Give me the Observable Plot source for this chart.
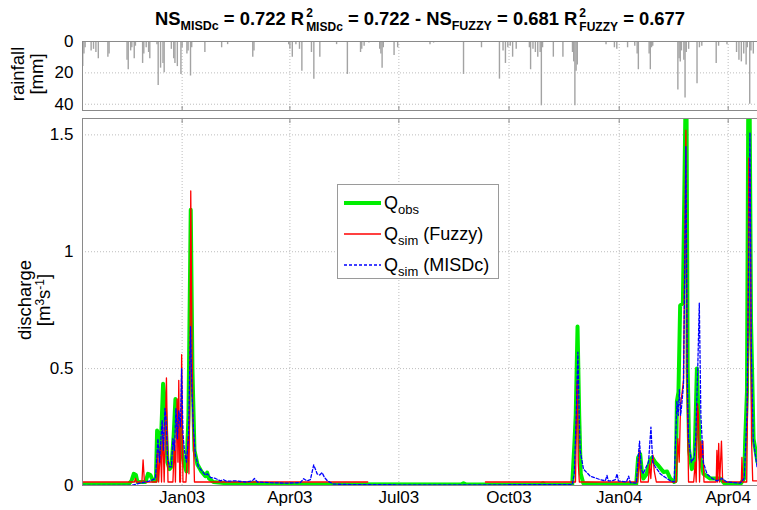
<!DOCTYPE html>
<html><head><meta charset="utf-8">
<script src="https://cdn.jsdelivr.net/npm/d3@7"></script>
<script src="https://cdn.jsdelivr.net/npm/@observablehq/plot@0.6"></script>
<style>
body{margin:0;background:#fff;font-family:"Liberation Sans",Arial,sans-serif;color:#000;}
#wrap{position:relative;width:757px;height:510px;overflow:hidden;background:#fff;}
#wrap > svg, #wrap > figure{position:absolute;left:0;top:0;margin:0;}
#title{position:absolute;left:-10px;width:860px;top:6px;text-align:center;font-weight:bold;font-size:18.4px;white-space:nowrap;font-family:"Liberation Sans",Arial,sans-serif;letter-spacing:0;}
#title sub{font-size:12.5px;vertical-align:-5px;line-height:0;}
.ss{display:inline-flex;flex-direction:column;vertical-align:8px;font-size:12px;line-height:14px;margin-left:2px;}
.ss span{display:block;text-align:left;}
.ylab{position:absolute;transform:translate(-50%,-50%) rotate(-90deg);white-space:nowrap;font-size:18.5px;line-height:18px;}
.ylab sup{font-size:12px;vertical-align:6px;line-height:0;}
</style>
</head><body>
<div id="wrap">
  <div id="title">NS<sub>MISDc</sub> = 0.722 R<span class="ss"><span>2</span><span>MISDc</span></span> = 0.722 - NS<sub>FUZZY</sub> = 0.681 R<span class="ss"><span>2</span><span>FUZZY</span></span> = 0.677</div>
</div>
<script>
// ---- data (day offsets from 2003-01-01) ----
const tickDates = ["2003-01-01","2003-04-01","2003-07-01","2003-10-01","2004-01-01","2004-04-01"];
const tickLabels = ["Jan03","Apr03","Jul03","Oct03","Jan04","Apr04"];
const qTicks = [0, 0.5, 1, 1.5];
const rainTicks = [0, 20, 40];

// rainfall [day, mm]
const rain = [[-83,16],[-82,8],[-81,4],[-76,6],[-74,5],[-72,7],[-70,11],[-62,10],[-61,8],[-46,12],[-45,18],[-43,6],[-42,4],[-40,11],[-39,3],[-33,14],[-32,8],[-30,4],[-28,7],[-27,11],[-21,2],[-20,28],[-18,17],[-16,14],[-15,20],[-9,5],[-7,11],[-6,14],[-4,16],[-1,21],[0,4],[4,8],[5,6],[7,22],[8,4],[19,7],[33,4],[38,2],
[59,10],[60,6],[89,2],[90,5],[92,10],[95,2],[98,5],[100,19],[108,7],[110,24],[115,10],[129,2],[138,21],[149,7],[150,5],[152,3],[156,1],[165,5],[166,8],[167,17],[168,4],[177,9],[180,4],
[207,2],[210,1],[235,21],[250,4],[255,0.5],[265,24],[268,6],[270,14],[272,4],[274,3],[276,10],[279,5],[290,4],[291,18],[293,5],[295,7],[297,10],[299,7],[300,41],[301,4],[310,10],[318,10],[326,7],[327,13],[328,41],[329,19],[330,15],
[354,2],[361,4],[363,5],[372,4],[378,3],[380,8],[381,18],[390,8],[391,18],[392,4],[393,3],[414,31],[415,11],[416,13],[417,6],[419,12],[420,36],[421,7],[423,5],[430,27],[432,4],[434,3],[446,14],[448,3],[455,2],[463,7],[465,12],[467,13],[469,8],[471,15],[472,4],[474,40],[475,6],[477,8]];

// observed discharge [day, m3/s]
const qObs = [[-83.2,0.005],[-44.8,0.005],[-42.3,0.02],[-40.4,0.05],[-38.6,0.045],[-37.3,0.015],[-30.6,0.015],[-28.5,0.05],[-26.5,0.045],[-24.4,0.02],[-21.9,0.02],[-20.9,0.235],[-19.5,0.2],[-18.1,0.13],[-15.9,0.435],[-14.8,0.38],[-13.9,0.3],[-12.3,0.1],[-10.6,0.07],[-8.9,0.08],[-7,0.22],[-5.6,0.37],[-3.9,0.3],[-1.4,0.25],[-0.2,0.15],[1.3,0.1],[3.6,0.06],[5.3,0.3],[7.2,1.18],[8.6,0.5],[10.3,0.15],[12.8,0.09],[16.1,0.06],[19.4,0.04],[20.9,0.055],[22.4,0.03],[26.1,0.015],[36.1,0.01],[57,0.008],[61,0.012],[63.5,0.006],[98.7,0.005],[233,0.004],[235,0.01],[237.3,0.004],[299,0.004],[301.3,0.01],[303.3,0.004],[325.8,0.005],[327.7,0.19],[328.7,0.3],[330.2,0.68],[331.6,0.3],[332.9,0.05],[335,0.01],[349.2,0.005],[379.2,0.005],[380.8,0.12],[382.5,0.135],[383.9,0.06],[385.2,0.03],[388,0.05],[390.8,0.11],[392.5,0.12],[395,0.1],[397.8,0.085],[402,0.058],[405,0.06],[407.6,0.03],[410.9,0.015],[412.2,0.02],[413.2,0.36],[414.5,0.4],[415.9,0.77],[418.2,0.78],[419.5,1.3],[420.4,1.65],[421.2,1.65],[422.2,0.5],[423.4,0.15],[425.7,0.07],[427.9,0.1],[429.9,0.5],[431.2,0.3],[432.6,0.12],[435.4,0.05],[441,0.03],[446.6,0.03],[449.4,0.03],[452.7,0.01],[466.1,0.005],[469.4,0.03],[470.2,0.19],[471.7,0.4],[472.8,1.65],[473.9,1.65],[475.1,0.7],[477.2,0.2],[480.5,0.1]];

// simulated discharge, fuzzy model [day, m3/s] (null = missing)
const qFuzzy = [[-83.2,0.015],[-39.8,0.015],[-39,0.03],[-38.1,0.015],[-33.6,0.015],[-32.6,0.11],[-31.5,0.015],[-21.2,0.015],[-20.4,0.15],[-19.6,0.015],[-18.1,0.17],[-17.2,0.015],[-16.2,0.26],[-15,0.015],[-13.1,0.46],[-11.8,0.015],[-7.7,0.015],[-6.4,0.19],[-5.6,0.015],[-4.2,0.37],[-3.5,0.1],[-2.8,0.45],[-2,0.015],[-1.4,0.015],[-0.4,0.56],[0.7,0.015],[3.2,0.015],[4.2,0.12],[5,0.21],[5.7,0.05],[6.5,0.4],[7.2,1.26],[8.2,0.6],[9,0.3],[10.3,0.015],[155,0.015],[200,null],[253.3,0.015],[328.5,0.015],[329.7,0.42],[330.1,0.45],[330.8,0.1],[331.7,0.015],[380.5,0.015],[381.7,0.15],[383,0.015],[389.3,0.015],[390.4,0.09],[391.4,0.03],[392.2,0.1],[393.2,0.13],[394.3,0.06],[396,0.015],[412.6,0.015],[414,0.2],[415.1,0.1],[416.3,0.35],[417.6,0.4],[418.7,0.45],[420.7,1.52],[421.8,0.4],[422.9,0.015],[427.2,0.015],[428.5,0.1],[429.3,0.015],[430.4,0.35],[431.2,0.3],[432.1,0.015],[433.2,0.19],[434.1,0.12],[434.9,0.19],[435.8,0.015],[446,0.015],[446.6,0.15],[447.2,0.015],[448.1,0.18],[448.9,0.015],[450.4,0.19],[451.4,0.015],[467,0.015],[467.5,0.12],[468.2,0.015],[471.5,0.015],[472.1,0.3],[473.3,1.4],[474.4,1.3],[475.5,0.2],[476.5,0.02],[480.5,0.02]];

// simulated discharge, MISDc model [day, m3/s]
const qMisdc = [[-83.2,0],[-43.2,0],[-34.8,0.01],[-26.5,0.02],[-22.3,0.03],[-20.2,0.2],[-18.9,0.1],[-17.7,0.2],[-16.7,0.28],[-15.6,0.15],[-14.4,0.33],[-13.4,0.28],[-12.3,0.12],[-10.6,0.08],[-8.9,0.08],[-7.7,0.2],[-6.4,0.15],[-5.2,0.33],[-3.9,0.2],[-2.8,0.32],[-1.4,0.25],[-0.4,0.5],[0.7,0.22],[1.9,0.15],[3.6,0.1],[5.3,0.2],[7,0.68],[8.2,0.4],[9.4,0.25],[11.1,0.13],[13.6,0.08],[16.9,0.06],[19.4,0.045],[21.1,0.05],[23.6,0.035],[27.8,0.03],[32,0.02],[34.5,0.025],[37,0.018],[44.5,0.02],[52.8,0.015],[58.7,0.02],[60.4,0.03],[62.9,0.015],[73.7,0.012],[86.3,0.01],[98.7,0.012],[101.5,0.029],[104.3,0.02],[107.1,0.025],[109.9,0.088],[111.3,0.07],[112.7,0.05],[114.9,0.045],[116.9,0.055],[118.8,0.035],[121.3,0.02],[126.3,0.006],[140.5,0.004],[182.2,0.003],[265.7,0.003],[325.8,0.004],[327.5,0.05],[329.1,0.3],[330.5,0.57],[331.6,0.3],[332.4,0.15],[335.2,0.07],[340.8,0.04],[349.2,0.025],[353.4,0.02],[354.8,0.043],[355.9,0.02],[359.2,0.02],[361.8,0.025],[363.2,0.05],[364.3,0.02],[371,0.015],[372.9,0.04],[374.3,0.012],[379.3,0.01],[380.6,0.1],[382,0.19],[383.4,0.07],[385.1,0.05],[387.6,0.08],[389.5,0.1],[391.5,0.25],[393,0.1],[395.1,0.08],[399.3,0.05],[403.4,0.035],[407.6,0.02],[410.9,0.015],[413.2,0.36],[414.3,0.3],[415.3,0.41],[416.3,0.3],[417.3,0.35],[418.7,0.43],[419.7,0.9],[420.7,1.45],[421.8,0.5],[422.9,0.2],[425.2,0.1],[427.7,0.12],[428.9,0.2],[430.6,0.5],[431.9,0.78],[433.2,0.3],[435.2,0.1],[438.3,0.05],[442.7,0.03],[446.6,0.02],[450.8,0.03],[455,0.015],[466.1,0.01],[469.4,0.03],[471.7,0.3],[472.8,0.8],[474.2,1.51],[475.3,0.6],[476.9,0.2],[480.1,0.08]];

// ---- build ----
const day0 = Date.UTC(2003, 0, 1);
const toDate = d => new Date(day0 + d * 86400000);
const xDomain = [toDate(-83.2), toDate(480.5)];
const ticks = tickDates.map(s => new Date(s));
const labelOf = new Map(ticks.map((t, i) => [+t, tickLabels[i]]));
const rows = arr => arr.map(([d, v]) => ({date: toDate(d), v: v == null ? NaN : v}));

const font = {fontFamily: "'Liberation Sans', Arial, sans-serif", fontSize: "17px", color: "#000", background: "transparent", overflow: "visible"};
const gridStyle = {stroke: "#bdbdbd", strokeOpacity: 1, strokeDasharray: "1,2", strokeWidth: 1};

const rainPlot = Plot.plot({
  width: 757, height: 115,
  marginLeft: 82, marginRight: 0, marginTop: 41, marginBottom: 5,
  style: font,
  x: {type: "utc", domain: xDomain, label: null},
  y: {domain: [0, 44], reverse: true, label: null},
  marks: [
    Plot.gridX(ticks, gridStyle),
    Plot.gridY([20, 40], gridStyle),
    Plot.ruleX(rows(rain), {x: "date", y1: 0, y2: "v", stroke: "#a3a3a3", strokeWidth: 1.4}),
    Plot.frame({stroke: "#8a8a8a"}),
    Plot.axisX(ticks, {anchor: "bottom", tickSize: -4, tickFormat: () => "", stroke: "#8a8a8a", label: null}),
    Plot.axisY(rainTicks, {tickSize: 0, tickPadding: 9, tickFormat: d => String(d), label: null})
  ]
});

const qPlot = Plot.plot({
  width: 757, height: 510,
  marginLeft: 82, marginRight: 0, marginTop: 118, marginBottom: 25,
  style: font,
  x: {type: "utc", domain: xDomain, label: null},
  y: {domain: [0, 1.57], label: null},
  marks: [
    Plot.gridX(ticks, gridStyle),
    Plot.gridY(qTicks.slice(1), gridStyle),
    Plot.line(rows(qObs), {x: "date", y: "v", stroke: "#00ee00", strokeWidth: 4, clip: true, strokeLinejoin: "round"}),
    Plot.line(rows(qFuzzy), {x: "date", y: "v", stroke: "#ff0000", strokeWidth: 1.3, clip: true}),
    Plot.line(rows(qMisdc), {x: "date", y: "v", stroke: "#0000ff", strokeWidth: 1.3, strokeDasharray: "3,2", clip: true}),
    Plot.frame({stroke: "#8a8a8a"}),
    Plot.axisX(ticks, {anchor: "top", tickSize: -4, tickFormat: () => "", stroke: "#8a8a8a", label: null}),
    Plot.axisX(ticks, {anchor: "bottom", tickSize: 0, tickPadding: 5, tickFormat: d => labelOf.get(+d), label: null}),
    Plot.axisY(qTicks, {tickSize: 0, tickPadding: 9, tickFormat: d => String(d), label: null})
  ]
});

const wrap = document.getElementById("wrap");
wrap.appendChild(rainPlot);
wrap.appendChild(qPlot);

// axis titles
function ylab(html, cx, cy) {
  const el = document.createElement("div");
  el.className = "ylab";
  el.innerHTML = html;
  el.style.left = cx + "px";
  el.style.top = cy + "px";
  wrap.appendChild(el);
}
ylab("rainfall", 18, 74);
ylab("[mm]", 37, 74);
ylab("discharge", 25, 300);
ylab("[m<sup>3</sup>s<sup>-1</sup>]", 44, 300);

// legend
const ns = "http://www.w3.org/2000/svg";
const leg = document.createElementNS(ns, "svg");
leg.setAttribute("width", 163); leg.setAttribute("height", 96);
leg.style.cssText = "position:absolute;left:337px;top:184px;font-family:'Liberation Sans',Arial,sans-serif;";
leg.innerHTML = `
<rect x="0.5" y="0.5" width="161" height="94" fill="#fff" stroke="#9a9a9a"/>
<line x1="7" x2="44" y1="19" y2="19" stroke="#00ee00" stroke-width="4"/>
<line x1="7" x2="44" y1="50" y2="50" stroke="#ff0000" stroke-width="1.3"/>
<line x1="7" x2="44" y1="81" y2="81" stroke="#0000ff" stroke-width="1.3" stroke-dasharray="3,2"/>
<text x="47" y="25" font-size="18">Q<tspan font-size="13" dy="5">obs</tspan></text>
<text x="47" y="56" font-size="18">Q<tspan font-size="13" dy="5">sim</tspan><tspan dy="-5"> (Fuzzy)</tspan></text>
<text x="47" y="87" font-size="18">Q<tspan font-size="13" dy="5">sim</tspan><tspan dy="-5"> (MISDc)</tspan></text>`;
wrap.appendChild(leg);
</script>
</body></html>
